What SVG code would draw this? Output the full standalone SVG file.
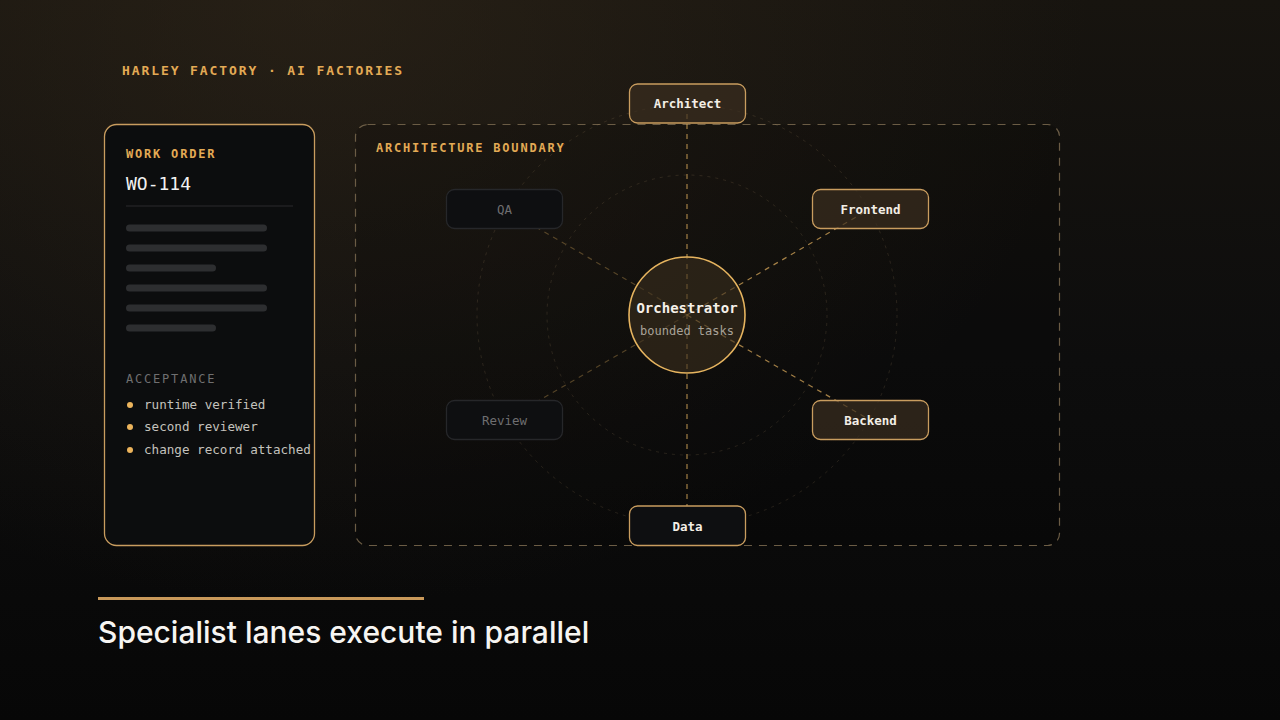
<svg xmlns="http://www.w3.org/2000/svg" width="1280" height="720" viewBox="0 0 1280 720">
<defs>
<linearGradient id="bg" x1="0" y1="0" x2="0" y2="1">
<stop offset="0" stop-color="#17140f"/>
<stop offset="0.5" stop-color="#0d0d0d"/>
<stop offset="1" stop-color="#070707"/>
</linearGradient>
<radialGradient id="glow" cx="0.25" cy="0" r="0.6" gradientTransform="translate(0.25 0) scale(1 1.4) translate(-0.25 0)">
<stop offset="0" stop-color="#3a2e1e" stop-opacity="0.45"/>
<stop offset="1" stop-color="#3a2e1e" stop-opacity="0"/>
</radialGradient>
<style>
.mono{font-family:"DejaVu Sans Mono","Liberation Mono",monospace}
.lbl{font-size:12px;font-weight:700;letter-spacing:1.8px;fill:#e3aa55}
.bar{fill:#2d2e30}
.li{font-size:12.6px;fill:#c4c2bd}
.dot{fill:#ecb45c}
.ring{fill:none;stroke:#b89a70;stroke-opacity:0.16;stroke-width:1;stroke-dasharray:3 5}
.con{stroke:#d4a559;stroke-opacity:0.75;stroke-width:1.2;stroke-dasharray:5 5;fill:none}
.con.dim{stroke-opacity:0.35}
.node rect{stroke-width:1.3}
.act rect{fill:#3a2e20;fill-opacity:0.7;stroke:#c99d5f}
.idle rect{fill:#0e0f11;stroke:#26272a}
.data rect{fill:#0e0f11;stroke:#c99d5f}
.nt{font-size:12.5px;font-weight:700;text-anchor:middle;fill:#f3eee6}
.idle .nt{font-weight:400;fill:#6e6e70}
</style>
</defs>
<rect width="1280" height="720" fill="url(#bg)"/>
<rect width="1280" height="720" fill="url(#glow)"/>

<text class="mono" x="122" y="75" font-size="13" font-weight="700" letter-spacing="1.9" fill="#e3aa55">HARLEY FACTORY · AI FACTORIES</text>

<g id="work-order">
<rect x="104.5" y="124.5" width="210" height="421" rx="12" fill="#0c0d0e" stroke="#c99d5f" stroke-width="1.3"/>
<text class="mono lbl" x="126" y="158">WORK ORDER</text>
<text class="mono" x="126" y="190" font-size="18" fill="#f2f2f2">WO-114</text>
<line x1="126" y1="206" x2="293" y2="206" stroke="#2a2b2d" stroke-width="1.2"/>
<rect class="bar" x="126" y="224.5" width="141" height="7" rx="3.5"/>
<rect class="bar" x="126" y="244.5" width="141" height="7" rx="3.5"/>
<rect class="bar" x="126" y="264.5" width="90" height="7" rx="3.5"/>
<rect class="bar" x="126" y="284.5" width="141" height="7" rx="3.5"/>
<rect class="bar" x="126" y="304.5" width="141" height="7" rx="3.5"/>
<rect class="bar" x="126" y="324.5" width="90" height="7" rx="3.5"/>
<text class="mono" x="126" y="383" font-size="12" letter-spacing="1.8" fill="#6f6f70">ACCEPTANCE</text>
<circle class="dot" cx="130" cy="405" r="3"/>
<text class="mono li" x="144" y="409">runtime verified</text>
<circle class="dot" cx="130" cy="427" r="3"/>
<text class="mono li" x="144" y="431">second reviewer</text>
<circle class="dot" cx="130" cy="450" r="3"/>
<text class="mono li" x="144" y="454">change record attached</text>
</g>

<g id="boundary">
<rect x="355.5" y="124.5" width="704" height="421" rx="12" fill="#000000" fill-opacity="0.15" stroke="#6b5c45" stroke-width="1.2" stroke-dasharray="8 7"/>
<text class="mono lbl" x="376" y="152">ARCHITECTURE BOUNDARY</text>
</g>

<g id="rings">
<circle class="ring" cx="687" cy="315" r="140"/>
<circle class="ring" cx="687" cy="315" r="210"/>
</g>

<g id="connectors">
<line class="con" x1="687" y1="104" x2="687" y2="526"/>
<line class="con" x1="687" y1="315" x2="870" y2="209"/>
<line class="con" x1="687" y1="315" x2="870" y2="420"/>
<line class="con dim" x1="687" y1="315" x2="505" y2="209"/>
<line class="con dim" x1="687" y1="315" x2="505" y2="420"/>
</g>

<g id="orchestrator">
<circle cx="687" cy="315" r="58" fill="#3a2e1e" fill-opacity="0.6" stroke="#e6b45f" stroke-width="1.6"/>
<text class="mono" x="687" y="313" font-size="14" font-weight="700" text-anchor="middle" fill="#f5f0e8">Orchestrator</text>
<text class="mono" x="687" y="335" font-size="12" text-anchor="middle" fill="#a8a298">bounded tasks</text>
</g>

<g id="architect" class="node act">
<rect x="629.5" y="84" width="116" height="39" rx="8"/>
<text class="mono nt" x="687.5" y="108">Architect</text>
</g>
<g id="frontend" class="node act">
<rect x="812.5" y="189.5" width="116" height="39" rx="8"/>
<text class="mono nt" x="870.5" y="214">Frontend</text>
</g>
<g id="backend" class="node act">
<rect x="812.5" y="400.5" width="116" height="39" rx="8"/>
<text class="mono nt" x="870.5" y="425">Backend</text>
</g>
<g id="data" class="node data">
<rect x="629.5" y="506" width="116" height="39.5" rx="8"/>
<text class="mono nt" x="687.5" y="531">Data</text>
</g>
<g id="qa" class="node idle">
<rect x="446.5" y="189.5" width="116" height="39" rx="8"/>
<text class="mono nt" x="504.5" y="214">QA</text>
</g>
<g id="review" class="node idle">
<rect x="446.5" y="400.5" width="116" height="39" rx="8"/>
<text class="mono nt" x="504.5" y="425">Review</text>
</g>

<rect x="98" y="597" width="326" height="3" fill="#c9995a"/>
<text x="98" y="643" font-family="Inter,'Noto Sans',sans-serif" font-size="30" font-weight="500" fill="#f7f5f2">Specialist lanes execute in parallel</text>
</svg>
